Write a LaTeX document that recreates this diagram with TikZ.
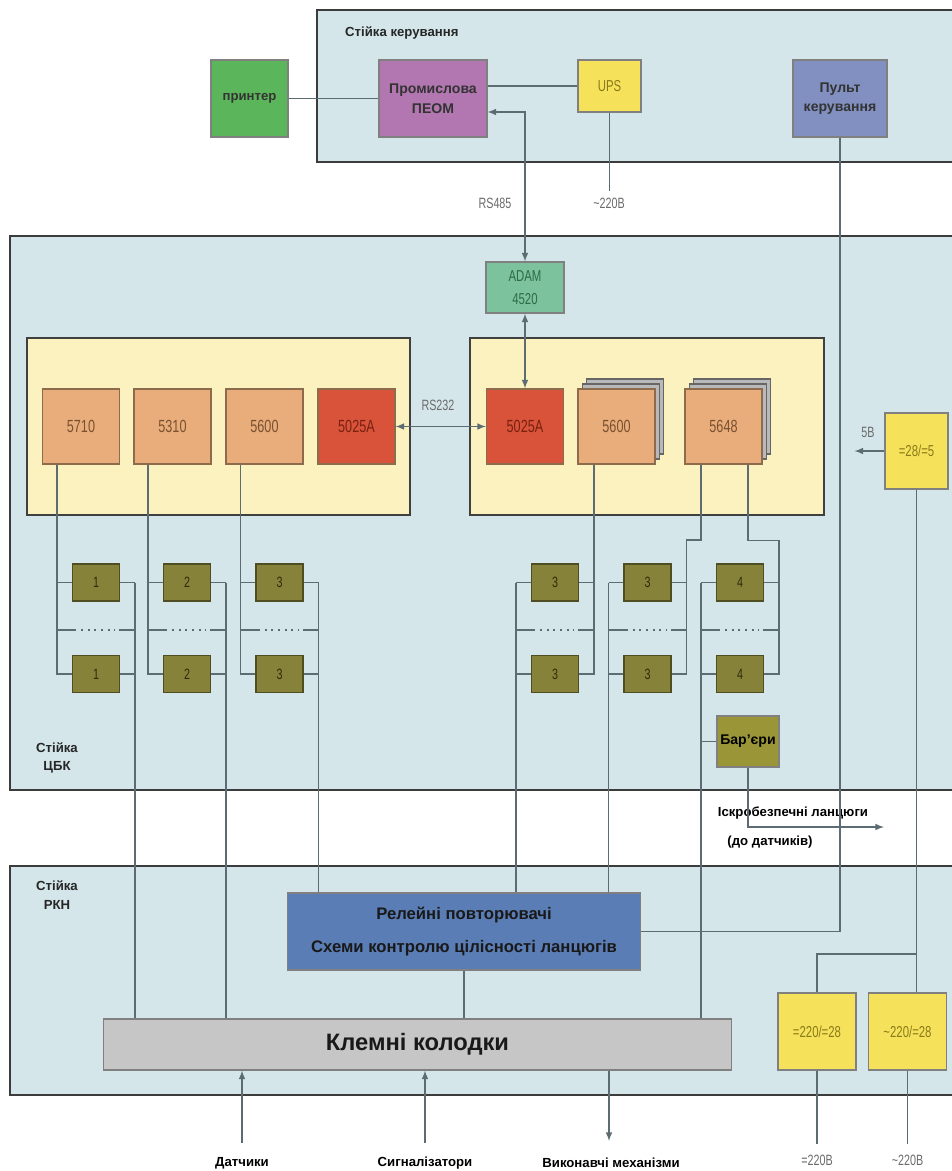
\documentclass[tikz,border=0pt]{standalone}
\usepackage{fontspec}
\setmainfont{Liberation Sans}
\newfontfamily\narrowfont[FakeStretch=0.72]{Liberation Sans}
\usetikzlibrary{arrows.meta}

\definecolor{rackfill}{HTML}{D4E6EA}
\definecolor{rackline}{HTML}{3C3C3C}
\definecolor{trayfill}{HTML}{FCF2C0}
\definecolor{modfill}{HTML}{E8AD7A}
\definecolor{modline}{HTML}{8C6C4C}
\definecolor{modtext}{HTML}{7A5030}
\definecolor{redfill}{HTML}{D8533A}
\definecolor{redtext}{HTML}{7A2010}
\definecolor{adamfill}{HTML}{7CC29C}
\definecolor{adamtext}{HTML}{2E6A4A}
\definecolor{termfill}{HTML}{86823A}
\definecolor{termline}{HTML}{4F4D22}
\definecolor{termtext}{HTML}{2E2C08}
\definecolor{barrfill}{HTML}{9A9638}
\definecolor{prnfill}{HTML}{5BB55B}
\definecolor{pcfill}{HTML}{B276B0}
\definecolor{upsfill}{HTML}{F5E25A}
\definecolor{upstext}{HTML}{8A7A1A}
\definecolor{pultfill}{HTML}{8190C0}
\definecolor{relefill}{HTML}{5A7DB5}
\definecolor{klemfill}{HTML}{C6C6C6}
\definecolor{wirecol}{HTML}{5C6C72}
\definecolor{lblgray}{HTML}{6A6A6A}

\begin{document}
\begin{tikzpicture}[x=0.02cm,y=-0.02cm,>=latex,
    rack/.style={draw=rackline,line width=1.6pt,fill=rackfill},
    tray/.style={draw=black!75,line width=1.2pt,fill=trayfill},
    blk/.style={draw=black!50,line width=0.6pt,inner sep=1pt,align=center},
    modbox/.style={blk,draw=modline,fill=modfill,minimum width=1.54cm,minimum height=1.5cm,
        text=modtext,font=\narrowfont\fontsize{10}{12}\selectfont},
    redbox/.style={modbox,fill=redfill,text=redtext},
    page/.style={draw=black!60,line width=0.6pt,fill=gray!55},
    term/.style={blk,draw=termline,fill=termfill,minimum width=0.94cm,minimum height=0.74cm,
        text=termtext,font=\narrowfont\fontsize{8.5}{10}\selectfont},
    pwr/.style={blk,fill=upsfill,text=upstext,font=\narrowfont\fontsize{9}{10}\selectfont},
    bold/.style={font=\bfseries\fontsize{7.5}{10.5}\selectfont},
    racklbl/.style={bold,text=black!85,align=center},
    graylbl/.style={text=lblgray,font=\narrowfont\fontsize{8.5}{10}\selectfont},
    wire/.style={draw=wirecol,line width=0.7pt},
    sep/.style={draw=wirecol,line width=1.1pt},
    dots/.style={sep,line width=0.9pt,dash pattern=on 1.2pt off 2.6pt}]
\useasboundingbox (0,0) rectangle (952,1171);

% racks
\draw[rack] (317,10) rectangle (970,162);
\draw[rack] (10,236) rectangle (970,790);
\draw[rack] (10,866) rectangle (970,1095);
\draw[tray] (27,338) rectangle (410,515);
\draw[tray] (470,338) rectangle (824,515);

\node[racklbl,anchor=west] (lbtop) at (339,33) {Стійка керування};
\node[racklbl] (lbcbk) at (57,758) {Стійка\\ЦБК};
\node[racklbl] (lbrkn) at (57,895) {Стійка\\РКН};

% control rack
\node[blk,fill=prnfill,minimum width=1.54cm,minimum height=1.54cm,bold,text=black!80] (prn) at (249.5,98.5) {принтер};
\node[blk,fill=pcfill,minimum width=2.16cm,minimum height=1.54cm,font=\bfseries\fontsize{8}{11.5}\selectfont,text=black!80] (pc) at (433,98.5) {Промислова\\ПЕОМ};
\node[pwr,minimum width=1.26cm,minimum height=1.04cm] (ups) at (609.5,86) {UPS};
\node[blk,fill=pultfill,minimum width=1.88cm,minimum height=1.54cm,font=\bfseries\fontsize{8}{10.5}\selectfont,text=black!80] (pult) at (840,98.5) {Пульт\\керування};

\node[graylbl] (lbrs485) at (495,203) {RS485};
\node[graylbl] (lbups) at (609,203) {\textasciitilde220В};

% CBK rack
\node[blk,fill=adamfill,minimum width=1.56cm,minimum height=1.02cm,text=adamtext,font=\narrowfont\fontsize{9}{13}\selectfont] (adam) at (525,287.5) {ADAM\\4520};

\node[modbox] (m5710) at (81,426.5) {5710};
\node[modbox] (m5310) at (172.5,426.5) {5310};
\node[modbox] (m5600) at (264.5,426.5) {5600};
\node[redbox] (k1) at (356.5,426.5) {5025A};
\node[redbox] (k2) at (525,426.5) {5025A};
\draw[page] (586.5,379) rectangle (663.5,454);
\draw[page] (582.5,384) rectangle (659.5,459);
\node[modbox] (n5600) at (616.5,426.5) {5600};
\draw[page] (693.5,379) rectangle (770.5,454);
\draw[page] (689.5,384) rectangle (766.5,459);
\node[modbox] (n5648) at (723.5,426.5) {5648};
\node[graylbl] (lbrs232) at (438,405) {RS232};

\foreach \g/\cx/\lab in {a/96/1,b/187/2,c/279.5/3,d/555/3,e/647.5/3,f/740/4}{
  \node[term] (t\g1) at (\cx,582.5) {\lab};
  \node[term] (t\g2) at (\cx,674) {\lab};
  \coordinate (l\g) at (\cx-39,582.5);
  \coordinate (r\g) at (\cx+39,582.5);
  \draw[wire] (l\g) -- (t\g1.west) (t\g1.east) -- (r\g);
  \draw[wire] (l\g) -- (l\g |- t\g2.west) -- (t\g2.west);
  \draw[wire] (r\g) -- (r\g |- t\g2.east) -- (t\g2.east);
  \draw[sep] (l\g |- 0,630) -- ++(19,0);
  \draw[dots] (l\g |- 0,630) ++(24,0) -- ++(34,0);
  \draw[sep] (r\g |- 0,630) -- ++(-16,0);
}

\node[blk,fill=barrfill,minimum width=1.24cm,minimum height=1.02cm,font=\bfseries\fontsize{8}{10}\selectfont] (barr) at (748,741.5) {Бар'єри};

\node[pwr,minimum width=1.26cm,minimum height=1.52cm] (p285) at (916.5,451) {=28/=5};
\node[graylbl] (lb5v) at (868,432) {5В};

% RKN rack
\node[blk,fill=relefill,minimum width=7.08cm,minimum height=1.54cm,font=\bfseries\fontsize{9.5}{19}\selectfont,text=black!90] (rele) at (464,931.5) {Релейні повторювачі\\Схеми контролю цілісності ланцюгів};
\node[blk,fill=klemfill,minimum width=12.58cm,minimum height=1.02cm,font=\bfseries\fontsize{13.5}{16}\selectfont,text=black!90] (klem) at (417.5,1044.5) {Клемні колодки};
\node[pwr,minimum width=1.56cm,minimum height=1.54cm] (pdc) at (817,1031.5) {=220/=28};
\node[pwr,minimum width=1.56cm,minimum height=1.54cm] (pac) at (907.5,1031.5) {\textasciitilde220/=28};

\node[fill=white,inner sep=1pt,minimum height=0.62cm,bold] (lbiskr) at (793,813) {Іскробезпечні ланцюги};
\node[bold] (lbdat) at (770,842) {(до датчиків)};
\node[bold] (lbsens) at (242,1163) {Датчики};
\node[bold] (lbsig) at (425,1163) {Сигналізатори};
\node[bold] (lbact) at (611,1163) {Виконавчі механізми};
\node[graylbl] (lbdc) at (817,1160) {=220В};
\node[graylbl] (lbac) at (907.5,1160) {\textasciitilde220В};

% connections
\draw[wire] (prn.east) -- (pc.west);
\draw[wire] (pc.east |- ups.west) -- (ups.west);
\draw[wire,<->] (pc.east |- 0,112) -| (adam.north);
\draw[wire] (ups.south) -- ++(0,78);
\draw[wire] (pult.south) |- (rele.east);
\draw[wire,<->] (adam.south) -- (k2.north);
\draw[wire,<->] (k1.east) -- (k2.west);

\draw[wire] (m5710.south -| la) -- (la);
\draw[wire] (m5310.south -| lb) -- (lb);
\draw[wire] (m5600.south -| lc) -- (lc);
\draw[wire] (n5600.south -| rd) -- (rd);
\draw[wire] (n5648.south -| lf) -- (lf |- 0,540) -| (re);
\draw[wire] ([xshift=0.49cm]n5648.south) -- ++(0,76) -| (rf);

\draw[wire] (ra |- ta2.east) -- (ra |- klem.north);
\draw[wire] (rb |- tb2.east) -- (rb |- klem.north);
\draw[wire] (rc |- tc2.east) -- (rc |- rele.north);
\draw[wire] (ld |- td2.west) -- (ld |- rele.north);
\draw[wire] (le |- te2.west) -- (le |- rele.north);
\draw[wire] (lf |- tf2.west) -- (lf |- klem.north);
\draw[wire] (lf |- barr.west) -- (barr.west);
\draw[wire] (rele.south) -- (rele.south |- klem.north);

\coordinate (iskr) at (884,827);
\draw[wire,->] (barr.south) |- (iskr);

\draw[wire,->] (p285.west) -- ++(-30,0);
\draw[wire] (p285.south) -- (p285.south |- pac.north);
\draw[wire] (p285.south |- 0,954) -| (pdc.north);
\draw[wire] (pdc.south) -- ++(0,73);
\draw[wire] (pac.south) -- ++(0,73);

\coordinate (sens) at (242,1143);
\coordinate (sig) at (425,1143);
\coordinate (act) at (609,1141);
\draw[wire,->] (sens) -- (sens |- klem.south);
\draw[wire,->] (sig) -- (sig |- klem.south);
\draw[wire,->] (act |- klem.south) -- (act);
\end{tikzpicture}
\end{document}
